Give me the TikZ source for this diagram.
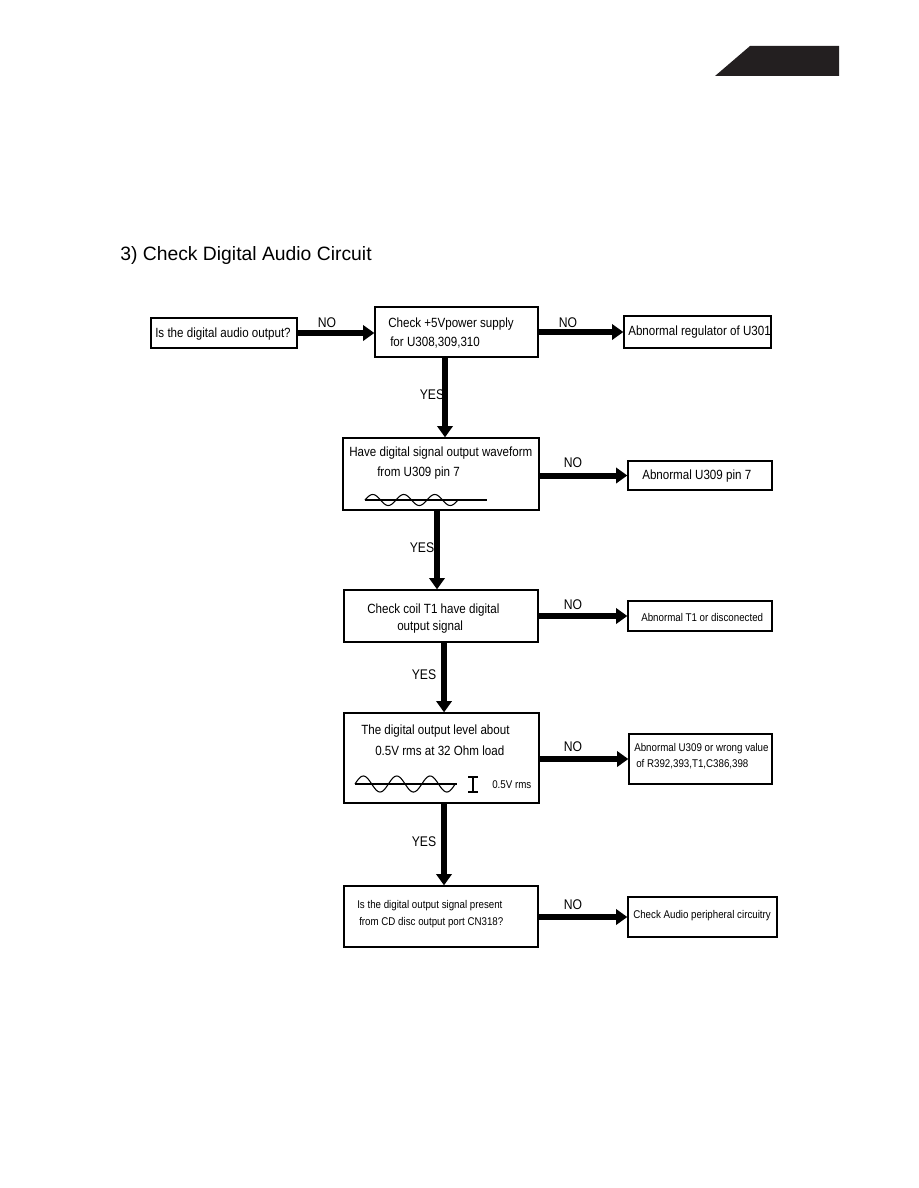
\documentclass[tikz,border=0pt]{standalone}
\usepackage{fontspec}
\setmainfont{Liberation Sans}
\newfontfamily\cadfont[FakeStretch=0.87]{Liberation Sans}
\usetikzlibrary{arrows.meta,positioning}

\definecolor{tabdark}{HTML}{231F20}

\tikzset{
  box/.style={draw, line width=1pt, inner sep=0pt},
  txt/.style={anchor=west, inner sep=0pt, font=\cadfont\fontsize{10}{11}\selectfont},
  smalltxt/.style={anchor=west, inner sep=0pt, font=\cadfont\fontsize{8.4}{9.5}\selectfont},
  lbl/.style={inner sep=0pt, font=\cadfont\fontsize{10.5}{11}\selectfont},
  flow/.style={line width=4.5pt, -{Triangle[length=8.5pt,width=11.5pt]}},
  wave/.style={line width=0.8pt},
}

\begin{document}
\begin{tikzpicture}[x=0.75pt, y=-0.75pt]
  \useasboundingbox (0,0) rectangle (918,1188);
  % page tab and heading
  \fill[tabdark] (715,76) -- (750,46) -- (839,46) -- (839,76) -- cycle;
  \node[anchor=west, inner sep=0pt, font=\fontsize{14.5}{16}\selectfont] (title) at (120,255) {3) Check Digital Audio Circuit};

  % boxes
  \node[box, minimum width=109.5pt, minimum height=22.5pt] (askout) at (224,333) {};
  \node[box, minimum width=122.25pt, minimum height=37.5pt] (chkpwr) at (456.5,332) {};
  \node[box, minimum width=110.25pt, minimum height=24pt] (badreg) at (697.5,332) {};
  \node[box, minimum width=147pt, minimum height=54pt] (chkwave) at (441,474) {};
  \node[box, minimum width=108pt, minimum height=21.75pt] (badpin) at (700,475.5) {};
  \node[box, minimum width=145.5pt, minimum height=39pt] (chkcoil) at (441,616) {};
  \node[box, minimum width=108pt, minimum height=22.5pt] (badcoil) at (700,616) {};
  \node[box, minimum width=146.25pt, minimum height=67.5pt] (chklevel) at (441.5,758) {};
  \node[box, minimum width=107.25pt, minimum height=37.5pt] (badlevel) at (700.5,759) {};
  \node[box, minimum width=145.5pt, minimum height=45.75pt] (chkport) at (441,916.5) {};
  \node[box, minimum width=111.75pt, minimum height=30pt] (chkperiph) at (702.5,917) {};

  % box texts
  \node[txt] (askouttxt) at (155,334) {Is the digital audio output?};
  \node[txt] (chkpwrtxta) at (388,324) {Check +5Vpower supply};
  \node[txt] (chkpwrtxtb) at (390,343) {for U308,309,310};
  \node[txt] (badregtxt) at (628,332) {Abnormal regulator of U301};
  \node[txt] (chkwavetxta) at (349,453) {Have digital signal output waveform};
  \node[txt] (chkwavetxtb) at (377,473) {from U309 pin 7};
  \node[txt] (badpintxt) at (642,476) {Abnormal U309 pin 7};
  \node[txt] (chkcoiltxta) at (367,610) {Check coil T1 have digital};
  \node[txt] (chkcoiltxtb) at (397,627) {output signal};
  \node[smalltxt] (badcoiltxt) at (641,617) {Abnormal T1 or disconected};
  \node[txt] (chkleveltxta) at (361,731) {The digital output level about};
  \node[txt] (chkleveltxtb) at (375,751) {0.5V rms at 32 Ohm load};
  \node[smalltxt] (rmstxt) at (492,785) {0.5V rms};
  \node[smalltxt] (badleveltxta) at (634,749) {Abnormal U309 or wrong value};
  \node[smalltxt] (badleveltxtb) at (636,764) {of R392,393,T1,C386,398};
  \node[smalltxt] (chkporttxta) at (357,906) {Is the digital output signal present};
  \node[smalltxt] (chkporttxtb) at (359,923) {from CD disc output port CN318?};
  \node[smalltxt] (chkperiphtxt) at (633,916) {Check Audio peripheral circuitry};

  % waveforms
  \draw[wave] (365,500) -- (487,500);
  \draw[wave] plot[domain=0:93, samples=120] ({365+\x}, {500-5.5*sin(\x/31*360)});
  \draw[wave] (355,784) -- (457,784);
  \draw[wave] plot[domain=0:100, samples=120] ({355+\x}, {784-8*sin(\x/33.4*360)});
  \draw[wave] (468,777) -- (478,777) (473,777) -- (473,792) (468,792) -- (478,792);

  % flow
  \draw[flow] (askout.east) -- (askout.east -| chkpwr.west);
  \draw[flow] (chkpwr.east |- badreg.west) -- (badreg.west);
  \draw[flow] ([xshift=3pt]chkwave.north |- chkpwr.south) -- ([xshift=3pt]chkwave.north);
  \draw[flow] (chkwave.east |- badpin.west) -- (badpin.west);
  \draw[flow] ([xshift=-3pt]chkcoil.north |- chkwave.south) -- ([xshift=-3pt]chkcoil.north);
  \draw[flow] (chkcoil.east |- badcoil.west) -- (badcoil.west);
  \draw[flow] ([xshift=1.9pt]chklevel.north |- chkcoil.south) -- ([xshift=1.9pt]chklevel.north);
  \draw[flow] (chklevel.east |- badlevel.west) -- (badlevel.west);
  \draw[flow] ([xshift=2.25pt]chkport.north |- chklevel.south) -- ([xshift=2.25pt]chkport.north);
  \draw[flow] (chkport.east |- chkperiph.west) -- (chkperiph.west);

  % labels
  \node[lbl] (no1) at (327,323) {NO};
  \node[lbl] (no2) at (568,323) {NO};
  \node[lbl] (yes1) at (432,395) {YES};
  \node[lbl] (no3) at (573,463) {NO};
  \node[lbl] (yes2) at (422,548) {YES};
  \node[lbl] (no4) at (573,605) {NO};
  \node[lbl] (yes3) at (424,675) {YES};
  \node[lbl] (no5) at (573,747) {NO};
  \node[lbl] (yes4) at (424,842) {YES};
  \node[lbl] (no6) at (573,905) {NO};
\end{tikzpicture}
\end{document}
